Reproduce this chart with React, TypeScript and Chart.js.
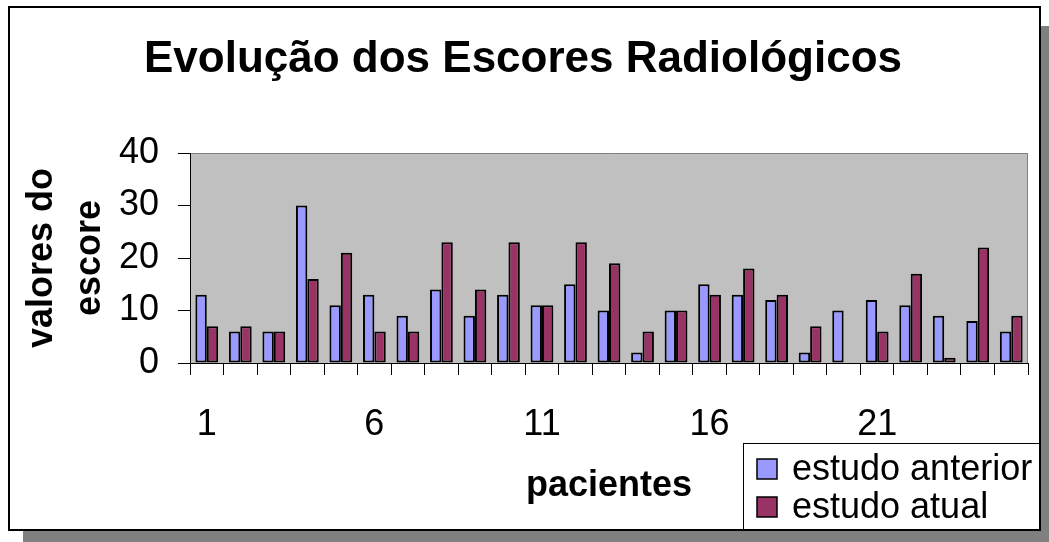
import React, { useEffect, useRef } from 'react';
import { Chart, registerables } from 'chart.js';

Chart.register(...registerables);

const categories = ['1', '2', '3', '4', '5', '6', '7', '8', '9', '10', '11', '12', '13', '14', '15', '16', '17', '18', '19', '20', '21', '22', '23', '24', '25'];
const shownTickLabels = ['1', '6', '11', '16', '21'];
const estudoAnterior = [13, 6, 6, 30, 11, 13, 9, 14, 9, 13, 11, 15, 10, 2, 10, 15, 13, 12, 2, 10, 12, 11, 9, 8, 6];
const estudoAtual = [7, 7, 6, 16, 21, 6, 6, 23, 14, 23, 11, 23, 19, 6, 10, 13, 18, 13, 7, 0, 6, 17, 1, 22, 9];
const yTicks = [0, 10, 20, 30, 40];
const seriesLabels = ['estudo anterior', 'estudo atual'];
const seriesColors = ['#9999FF', '#993366'];

const FONT = '"Liberation Sans", Arial, Helvetica, sans-serif';

const plotBackground = {
  id: 'plotBackground',
  beforeDraw(chart: any) {
    const { ctx, chartArea } = chart;
    if (!chartArea) return;
    const { left, top, right, bottom } = chartArea;
    ctx.save();
    ctx.fillStyle = '#C0C0C0';
    ctx.fillRect(left, top, right - left, bottom - top);
    ctx.strokeStyle = '#808080';
    ctx.lineWidth = 1;
    ctx.beginPath();
    ctx.moveTo(left, top + 0.5);
    ctx.lineTo(right - 0.5, top + 0.5);
    ctx.lineTo(right - 0.5, bottom);
    ctx.stroke();
    ctx.restore();
  },
};

const boxLegend = {
  id: 'boxLegend',
  afterDraw(chart: any) {
    const { ctx } = chart;
    const datasets = chart.data.datasets;
    const x0 = 743.5;
    const y0 = 443.5;
    const x1 = 1039.5;
    const y1 = 529.5;
    ctx.save();
    ctx.fillStyle = '#FFFFFF';
    ctx.fillRect(x0, y0, x1 - x0, y1 - y0);
    ctx.strokeStyle = '#000000';
    ctx.lineWidth = 1;
    ctx.strokeRect(x0, y0, x1 - x0, y1 - y0);
    ctx.font = `36px ${FONT}`;
    ctx.textBaseline = 'middle';
    ctx.textAlign = 'left';
    datasets.forEach((ds: any, i: number) => {
      const cy = 469 + i * 38;
      ctx.fillStyle = ds.backgroundColor;
      ctx.fillRect(757, cy - 10, 20, 20);
      ctx.strokeStyle = '#000000';
      ctx.lineWidth = 1.5;
      ctx.strokeRect(757, cy - 10, 20, 20);
      ctx.fillStyle = '#000000';
      ctx.fillText(ds.label, 792, cy + 1);
    });
    ctx.restore();
  },
};

export default function App() {
  const canvasRef = useRef<HTMLCanvasElement | null>(null);

  useEffect(() => {
    const canvas = canvasRef.current;
    if (!canvas) return;
    const chart = new Chart(canvas, {
      type: 'bar',
      data: {
        labels: categories,
        datasets: [
          {
            label: seriesLabels[0],
            data: estudoAnterior,
            backgroundColor: seriesColors[0],
            borderColor: '#000000',
            borderWidth: 2,
            borderSkipped: false,
            categoryPercentage: 0.68,
            barPercentage: 1,
          },
          {
            label: seriesLabels[1],
            data: estudoAtual,
            backgroundColor: seriesColors[1],
            borderColor: '#000000',
            borderWidth: 2,
            borderSkipped: false,
            categoryPercentage: 0.68,
            barPercentage: 1,
          },
        ],
      },
      options: {
        responsive: false,
        animation: false,
        devicePixelRatio: 1,
        layout: { padding: { left: 18, right: 21, top: 0, bottom: 34.4 } },
        plugins: {
          legend: { display: false },
          tooltip: { enabled: false },
          title: {
            display: true,
            text: 'Evolução dos Escores Radiológicos',
            color: '#000000',
            font: { family: FONT, size: 44, weight: 'bold', lineHeight: 1.2 },
            padding: { top: 33.6, bottom: 66.6 },
          },
        },
        scales: {
          x: {
            grid: { drawOnChartArea: false, tickLength: 12, color: '#000000', offset: true },
            border: { color: '#000000', width: 1 },
            ticks: {
              autoSkip: false,
              maxRotation: 0,
              minRotation: 0,
              padding: 28,
              color: '#000000',
              font: { family: FONT, size: 36 },
              callback: (_v: any, i: number) => (shownTickLabels.includes(categories[i]) ? categories[i] : ''),
            },
            title: {
              display: true,
              text: 'pacientes',
              color: '#000000',
              font: { family: FONT, size: 36, weight: 'bold', lineHeight: 1.2 },
              padding: { top: -9.8, bottom: 0 },
            },
          },
          y: {
            min: 0,
            max: 40,
            afterBuildTicks: (axis: any) => {
              axis.ticks = yTicks.map((v) => ({ value: v }));
            },
            grid: { drawOnChartArea: false, tickLength: 12, color: '#000000' },
            border: { color: '#000000', width: 1 },
            ticks: {
              autoSkip: false,
              padding: 19,
              color: '#000000',
              font: { family: FONT, size: 36 },
            },
            title: {
              display: true,
              text: ['valores do', 'escore'],
              color: '#000000',
              font: { family: FONT, size: 36, weight: 'bold', lineHeight: 1.333 },
              padding: { top: 0, bottom: -14 },
            },
          },
        },
      },
      plugins: [plotBackground, boxLegend],
    } as any);
    return () => chart.destroy();
  }, []);

  return (
    <div>
      <div
        style={{
          position: 'absolute',
          left: 8,
          top: 6,
          width: 1033,
          height: 525,
          boxSizing: 'border-box',
          border: '2px solid #000',
          background: '#fff',
          boxShadow: '15px 20px 0 #808080',
        }}
      />
      <canvas
        ref={canvasRef}
        width={1049}
        height={542}
        style={{ position: 'absolute', left: 0, top: 0, width: 1049, height: 542 }}
      />
    </div>
  );
}
